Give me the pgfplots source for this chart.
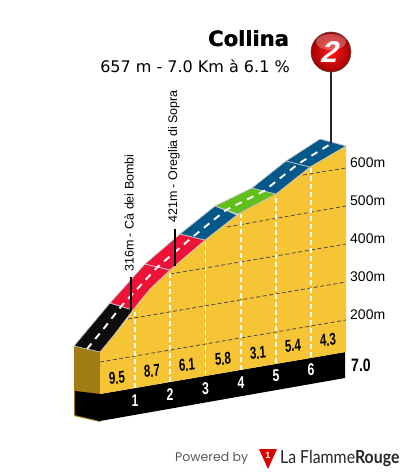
\documentclass[border=0pt]{standalone}
\usepackage{fontspec}
\setmainfont{Liberation Sans}
\newfontfamily\djv{DejaVu Sans}
\newfontfamily\pop{Poppins}
\newfontfamily\lat{Lato}
\usepackage{pgfplots}
\pgfplotsset{compat=1.18}
\definecolor{yel}{HTML}{F6C536}
\definecolor{brn}{HTML}{A27C17}
\definecolor{rd}{HTML}{EE1238}
\definecolor{blu}{HTML}{05598A}
\definecolor{grn}{HTML}{62BE1C}
\definecolor{edge}{HTML}{C4C4C4}
\definecolor{gridc}{HTML}{4A4A4A}
\newcommand{\fs}[1]{\fontsize{#1}{#1}\selectfont}
\begin{document}
\begin{tikzpicture}
\begin{axis}[
  at={(0,0)},anchor=south west,
  scale only axis,width=405pt,height=475pt,
  xmin=0,xmax=405,ymin=0,ymax=475,y dir=reverse,
  hide axis,clip=false]
\addplot[draw=none,forget plot] coordinates {(0,0)(405,475)};
% side and base
\addplot[fill=brn,draw=none] coordinates {(74,346)(100,352)(100,422)(74,416)} --cycle;
\addplot[fill=black,draw=none] coordinates {(75,391)(100,394)(345,352)(345,378)(100,421)(75,415)} --cycle;
% climb body
\addplot[fill=yel,draw=none] coordinates {(100,352)(114,335)(128,318)(133,310)(150,289)(170,270)(175,266)(205,240)(240,213)(276,194)(310,167)(346,146)(346,352)(100,394)} --cycle;
% grid
\addplot[gridc,line width=0.8pt,dash pattern=on 4pt off 2.5pt] coordinates {(100,362)(346,320)};
\addplot[gridc,line width=0.8pt,dash pattern=on 4pt off 2.5pt] coordinates {(128,319)(346,282)};
\addplot[gridc,line width=0.8pt,dash pattern=on 4pt off 2.5pt] coordinates {(170,274)(346,244)};
\addplot[gridc,line width=0.8pt,dash pattern=on 4pt off 2.5pt] coordinates {(227,227)(346,206)};
\addplot[gridc,line width=0.8pt,dash pattern=on 4pt off 2.5pt] coordinates {(303,175)(346,168)};
% km posts
\addplot[white,line width=1.9pt,dash pattern=on 5pt off 3pt] coordinates {(135,388)(135,312)};
\addplot[white,line width=1.9pt,dash pattern=on 5pt off 3pt] coordinates {(170,382)(170,272)};
\addplot[white,line width=1.9pt,dash pattern=on 5pt off 3pt] coordinates {(205.5,375)(205.5,242)};
\addplot[white,line width=1.9pt,dash pattern=on 5pt off 3pt] coordinates {(241,370)(241,214)};
\addplot[white,line width=1.9pt,dash pattern=on 5pt off 3pt] coordinates {(276,363)(276,195)};
\addplot[white,line width=1.9pt,dash pattern=on 5pt off 3pt] coordinates {(311,357)(311,167)};
% road
\addplot[fill=black!95,draw=edge,line width=0.7pt] coordinates {(74,346)(92,324.5)(110,303)(133,310)(114,335)(100,352)} --cycle;
\addplot[fill=rd,draw=edge,line width=0.7pt] coordinates {(110,303)(128,283)(145,264)(170,270)(150,289)(133,310)} --cycle;
\addplot[fill=rd,draw=edge,line width=0.7pt] coordinates {(145,264)(180,234)(205,240)(170,270)} --cycle;
\addplot[fill=blu,draw=edge,line width=0.7pt] coordinates {(180,234)(215,206)(237,215)(205,240)} --cycle;
\addplot[fill=grn,draw=edge,line width=0.7pt] coordinates {(215,206)(252,188)(276,194)(238,214)} --cycle;
\addplot[fill=blu,draw=edge,line width=0.7pt] coordinates {(252,188)(286,161)(310,167)(276,194)} --cycle;
\addplot[fill=blu,draw=edge,line width=0.7pt] coordinates {(286,161)(320,139)(346,146)(310,167)} --cycle;
\addplot[white,line width=1.9pt,dash pattern=on 7pt off 6pt] coordinates {(87,349)(103,329.5)(121,306.5)(157.5,267)(192.5,237)(226,210)(264,191)(298,164)(333,142.5)};
% passes
\addplot[black,line width=1.5pt] coordinates {(131,277)(131,310)};
\addplot[black,line width=1.5pt] coordinates {(175,229)(175,266)};
\addplot[black!85,line width=1.3pt] coordinates {(331,70)(331,143)};
\node[rotate=90,anchor=west,inner sep=0pt,font=\fs{12.5}] at (axis cs:129,272) {316m - Cà dei Bombi};
\node[rotate=90,anchor=west,inner sep=0pt,font=\fs{12.5}] at (axis cs:174,223) {421m - Oreglia di Sopra};
% badge
\shade[inner color=red!90!white,outer color=red!65!black,draw=black!70,line width=0.6pt] (axis cs:331,52) circle[radius=20pt];
\fill[white,opacity=0.28] (axis cs:331,42) ellipse[x radius=15pt,y radius=8pt];
\node[white,font=\fs{30}\bfseries,inner sep=0pt,xslant=0.3] at (axis cs:331,52) {2};
% titles
\node[font=\djv\fs{21}\bfseries,inner sep=0pt] at (axis cs:248.5,39) {Collina};
\node[font=\djv\fs{21}\bfseries,inner sep=0pt] at (axis cs:248.9,39) {Collina};
\node[font=\djv\fs{16},inner sep=0pt] at (axis cs:195,66) {657 m - 7.0 Km à 6.1 \%};
% y labels
\node[anchor=west,inner sep=0pt,font=\fs{14}] at (axis cs:350,163) {600m};
\node[anchor=west,inner sep=0pt,font=\fs{14}] at (axis cs:350,201) {500m};
\node[anchor=west,inner sep=0pt,font=\fs{14}] at (axis cs:350,239) {400m};
\node[anchor=west,inner sep=0pt,font=\fs{14}] at (axis cs:350,277) {300m};
\node[anchor=west,inner sep=0pt,font=\fs{14}] at (axis cs:350,315) {200m};
\node[inner sep=0pt,font=\fs{18}\bfseries,xscale=.78] at (axis cs:361,365) {7.0};
% gradients
\node[inner sep=0pt,font=\fs{17}\bfseries,xscale=.68,rotate=5] at (axis cs:117,378) {9.5};
\node[inner sep=0pt,font=\fs{17}\bfseries,xscale=.68,rotate=5] at (axis cs:152,371) {8.7};
\node[inner sep=0pt,font=\fs{17}\bfseries,xscale=.68,rotate=5] at (axis cs:187,365) {6.1};
\node[inner sep=0pt,font=\fs{17}\bfseries,xscale=.68,rotate=5] at (axis cs:223,359) {5.8};
\node[inner sep=0pt,font=\fs{17}\bfseries,xscale=.68,rotate=5] at (axis cs:258,353) {3.1};
\node[inner sep=0pt,font=\fs{17}\bfseries,xscale=.68,rotate=5] at (axis cs:293,346) {5.4};
\node[inner sep=0pt,font=\fs{17}\bfseries,xscale=.68,rotate=5] at (axis cs:328,340) {4.3};
% km numbers
\node[white,inner sep=0pt,font=\fs{17}\bfseries,xscale=.72] at (axis cs:135,401) {1};
\node[white,inner sep=0pt,font=\fs{17}\bfseries,xscale=.72] at (axis cs:170,395) {2};
\node[white,inner sep=0pt,font=\fs{17}\bfseries,xscale=.72] at (axis cs:205.5,389) {3};
\node[white,inner sep=0pt,font=\fs{17}\bfseries,xscale=.72] at (axis cs:241,383) {4};
\node[white,inner sep=0pt,font=\fs{17}\bfseries,xscale=.72] at (axis cs:276,376) {5};
\node[white,inner sep=0pt,font=\fs{17}\bfseries,xscale=.72] at (axis cs:311,370) {6};
% footer
\node[anchor=west,inner sep=0pt,text=black!65,font=\pop\fs{12.5}] at (axis cs:175,458) {Powered by};
\addplot[fill=red!85!black,draw=none] coordinates {(259,449)(277,449)(268,469)} --cycle;
\node[white,inner sep=0pt,font=\fs{9}\bfseries] at (axis cs:268,455) {1};
\node[anchor=west,inner sep=0pt,text=black!85,font=\lat\fs{18},xscale=.88] at (axis cs:280,458) {La Flamme\textbf{Rouge}};
\end{axis}
\end{tikzpicture}
\end{document}
